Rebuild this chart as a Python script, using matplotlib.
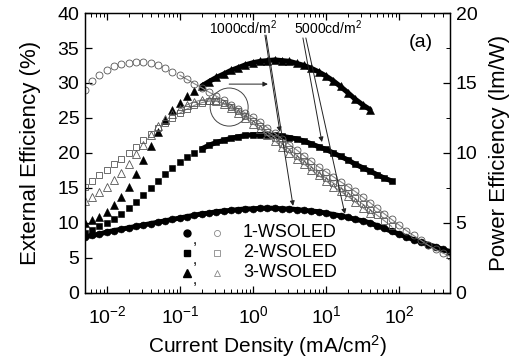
import matplotlib
matplotlib.use("Agg")
import matplotlib.pyplot as plt
from matplotlib.patches import Ellipse
from matplotlib.ticker import LogLocator, MultipleLocator, NullFormatter

plt.rcParams["font.family"] = ["Liberation Sans", "DejaVu Sans"]
plt.rcParams["mathtext.fontset"] = "custom"
plt.rcParams["mathtext.rm"] = "Liberation Sans"
plt.rcParams["mathtext.it"] = "Liberation Sans:italic"
plt.rcParams["mathtext.bf"] = "Liberation Sans:bold"

# current density (mA/cm2), shared by all devices
current = [0.005, 0.0063, 0.0079,
           0.01, 0.0126, 0.0158, 0.02, 0.025, 0.0316, 0.04, 0.05, 0.063, 0.079,
           0.1, 0.126, 0.158, 0.2, 0.25, 0.316, 0.4, 0.5, 0.63, 0.79,
           1, 1.26, 1.58, 2, 2.5, 3.16, 4, 5, 6.3, 7.9,
           10, 12.6, 15.8, 20, 25, 31.6, 40, 50, 63, 79,
           100, 126, 158, 200, 251, 316, 398, 501]

# external quantum efficiency (%)
eqe_1 = [8.0, 8.2, 8.4, 8.7, 8.9, 9.1, 9.3, 9.5, 9.7, 9.9, 10.1, 10.3, 10.5,
         10.7, 10.9, 11.1, 11.3, 11.4, 11.6, 11.7, 11.8, 11.9, 12.0, 12.0,
         12.1, 12.1, 12.1, 12.0, 12.0, 11.9, 11.8, 11.7, 11.6, 11.4, 11.2,
         11.0, 10.8, 10.5, 10.3, 10.0, 9.6, 9.2, 8.8, 8.4, 8.0, 7.6, 7.3,
         6.9, 6.6, 6.2, 5.9]
eqe_2 = [8.6, 9.0, 9.5, 10.0, 10.6, 11.3, 12.1, 13.0, 14.0, 15.0, 16.0, 17.0,
         17.9, 18.7, 19.4, 20.0, 20.6, 21.1, 21.5, 21.8, 22.1, 22.3, 22.5,
         22.6, 22.6, 22.6, 22.5, 22.4, 22.2, 22.0, 21.7, 21.3, 20.9, 20.5,
         20.0, 19.5, 19.0, 18.4, 17.9, 17.4, 16.9, 16.4, 16.0]
eqe_3 = [10.0, 10.4, 10.9, 11.6, 12.5, 13.7, 15.2, 17.0, 19.0, 21.0, 23.0,
         24.7, 26.1, 27.2, 28.1, 28.9, 29.6, 30.2, 30.8, 31.3, 31.8, 32.2,
         32.6, 32.9, 33.1, 33.2, 33.3, 33.2, 33.1, 32.8, 32.5, 32.1, 31.6,
         31.0, 30.3, 29.5, 28.6, 27.7, 26.9, 26.2]

# power efficiency (lm/W)
pe_1 = [14.5, 15.15, 15.6, 15.95, 16.2, 16.35, 16.45, 16.5, 16.5, 16.4, 16.25,
        16.05, 15.8, 15.55, 15.25, 14.95, 14.65, 14.35, 14.05, 13.75, 13.45,
        13.15, 12.85, 12.55, 12.2, 11.8, 11.4, 11.0, 10.6, 10.2, 9.8, 9.4,
        9.0, 8.65, 8.3, 7.95, 7.6, 7.25, 6.85, 6.45, 6.05, 5.65, 5.25, 4.85,
        4.45, 4.1, 3.75, 3.4, 3.1, 2.85, 2.6]
pe_2 = [7.6, 8.0, 8.4, 8.8, 9.2, 9.6, 10.0, 10.45, 10.9, 11.35, 11.75, 12.15,
        12.5, 12.85, 13.15, 13.4, 13.6, 13.7, 13.7, 13.55, 13.3, 13.0, 12.65,
        12.3, 11.9, 11.5, 11.1, 10.65, 10.25, 9.8, 9.4, 9.0, 8.6, 8.2, 7.85,
        7.5, 7.15, 6.75, 6.35, 5.95, 5.55, 5.15, 4.75]
pe_3 = [6.6, 6.85, 7.2, 7.6, 8.05, 8.55, 9.2, 9.9, 10.6, 11.3, 11.9, 12.4,
        12.8, 13.15, 13.45, 13.65, 13.8, 13.8, 13.7, 13.5, 13.2, 12.85, 12.5,
        12.1, 11.7, 11.25, 10.85, 10.4, 10.0, 9.6, 9.2, 8.8, 8.4, 8.0, 7.6,
        7.25, 6.9, 6.5, 6.1, 5.7]

devices = ["1-WSOLED", "2-WSOLED", "3-WSOLED"]
markers = ["o", "s", "^"]
msizes = [5.0, 4.6, 5.4]
# where the measured points crowd into a solid band
dense_from = [0, 16, 16]

fig = plt.figure(figsize=(5.24, 3.62), dpi=100)
ax = fig.add_axes([0.162, 0.191, 0.697, 0.773])
ax2 = ax.twinx()

for eqe, pe, m, ms, i0 in zip([eqe_1, eqe_2, eqe_3], [pe_1, pe_2, pe_3],
                              markers, msizes, dense_from):
    x_e = current[:len(eqe)]
    x_p = current[:len(pe)]
    ax.plot(x_e[i0:], eqe[i0:], color="black", lw=3.6, solid_capstyle="round")
    ax.plot(x_e, eqe, ls="none", marker=m, ms=ms,
            mfc="black", mec="black", mew=0.4)
    ax2.plot(x_p[13:], pe[13:], color="#888888", lw=0.8)
    ax2.plot(x_p, pe, ls="none", marker=m, ms=ms,
             mfc="none", mec="#555555", mew=0.6)

ax.set_xscale("log")
ax.set_xlim(0.005, 500)
ax.set_ylim(0, 40)
ax2.set_ylim(0, 20)

ax.xaxis.set_major_locator(LogLocator(base=10, numticks=12))
ax.xaxis.set_minor_locator(LogLocator(base=10, subs=range(2, 10), numticks=12))
ax.xaxis.set_minor_formatter(NullFormatter())
ax.yaxis.set_major_locator(MultipleLocator(5))
ax2.yaxis.set_major_locator(MultipleLocator(5))
ax2.yaxis.set_minor_locator(MultipleLocator(2.5))

ax.tick_params(axis="x", which="both", direction="in", top=True, labelsize=14, pad=9)
ax.tick_params(axis="y", which="both", direction="in", right=False, labelsize=14, pad=4)
ax.tick_params(which="major", length=5, width=0.9)
ax.tick_params(which="minor", length=3, width=0.7)
ax2.tick_params(which="both", direction="in", labelsize=14, pad=4)
ax2.tick_params(which="major", length=5, width=0.9)
ax2.tick_params(which="minor", length=3, width=0.7)

for a in (ax, ax2):
    for s in a.spines.values():
        s.set_linewidth(0.9)

ax.set_xlabel("Current Density (mA/cm$^2$)", fontsize=15, labelpad=4)
ax.set_ylabel("External Efficiency (%)", fontsize=16, labelpad=12)
ax2.set_ylabel("Power Efficiency (lm/W)", fontsize=16, labelpad=8)

# manual legend
rows = [0.214, 0.143, 0.071]
for name, m, ms, yy in zip(devices, markers, msizes, rows):
    ax.plot([0.279], [yy], transform=ax.transAxes, marker=m, ms=ms,
            mfc="black", mec="black", ls="none", clip_on=False)
    ax.text(0.302, yy - 0.025, ",", transform=ax.transAxes, fontsize=11,
            ha="center", va="center")
    ax.plot([0.362], [yy], transform=ax.transAxes, marker=m, ms=ms - 0.6,
            mfc="none", mec="#888888", mew=0.6, ls="none", clip_on=False)
    ax.text(0.433, yy, name, transform=ax.transAxes, fontsize=13,
            ha="left", va="center")

# annotations
ax.text(0.433, 0.946, "1000cd/m$^2$", transform=ax.transAxes, fontsize=10,
        ha="center", va="center")
ax.text(0.666, 0.946, "5000cd/m$^2$", transform=ax.transAxes, fontsize=10,
        ha="center", va="center")
ax.text(0.921, 0.893, "(a)", transform=ax.transAxes, fontsize=14,
        ha="center", va="center")

ax2.add_patch(Ellipse((0.395, 0.664), 0.104, 0.136, transform=ax.transAxes,
                      fill=False, ec="#444444", lw=0.7))

arrows = [((0.395, 0.746), (0.501, 0.746)),
          ((0.493, 0.921), (0.534, 0.575)),
          ((0.496, 0.921), (0.570, 0.311)),
          ((0.597, 0.911), (0.649, 0.539)),
          ((0.605, 0.911), (0.712, 0.282))]
for start, end in arrows:
    ax2.annotate("", xy=end, xytext=start, xycoords=ax.transAxes,
                 textcoords=ax.transAxes,
                 arrowprops=dict(arrowstyle="-|>", lw=0.7, color="#222222",
                                 mutation_scale=7, shrinkA=0, shrinkB=0))

fig.savefig("out.png", dpi=100)
